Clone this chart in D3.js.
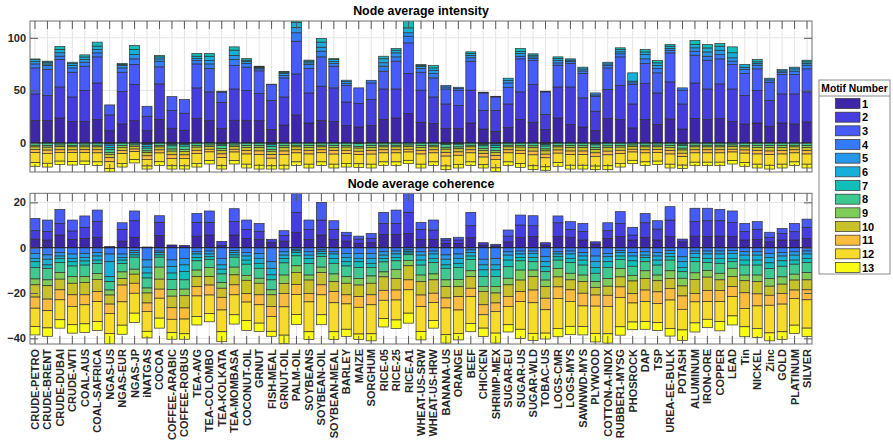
<!DOCTYPE html>
<html>
<head>
<meta charset="utf-8">
<script src="https://cdn.jsdelivr.net/npm/d3@7"></script>
<style>
  body { margin: 0; background: #fff; }
  svg { display: block; }
</style>
</head>
<body>
<svg id="chart" width="893" height="445"></svg>
<script>
// ---- categories and motif labels ----
const categories = ["CRUDE-PETRO","CRUDE-BRENT","CRUDE-DUBAI","CRUDE-WTI","COAL-AUS","COAL-SAFRICA","NGAS-US","NGAS-EUR","NGAS-JP","iNATGAS",
  "COCOA","COFFEE-ARABIC","COFFEE-ROBUS","TEA-AVG","TEA-COLOMBO","TEA-KOLKATA","TEA-MOMBASA","COCONUT-OIL","GRNUT","FISH-MEAL",
  "GRNUT-OIL","PALM-OIL","SOYBEANS","SOYBEAN-OIL","SOYBEAN-MEAL","BARLEY","MAIZE","SORGHUM","RICE-05","RICE-25",
  "RICE-A1","WHEAT-US-SRW","WHEAT-US-HRW","BANANA-US","ORANGE","BEEF","CHICKEN","SHRIMP-MEX","SUGAR-EU","SUGAR-US",
  "SUGAR-WLD","TOBAC-US","LOGS-CMR","LOGS-MYS","SAWNWD-MYS","PLYWOOD","COTTON-A-INDX","RUBBER1-MYSG","PHOSROCK","DAP",
  "TSP","UREA-EE-BULK","POTASH","ALUMINUM","IRON-ORE","COPPER","LEAD","Tin","NICKEL","Zinc",
  "GOLD","PLATINUM","SILVER"];
const motifLabels = ["1","2","3","4","5","6","7","8","9","10","11","12","13"];
const motifColors = ["#3e26a8","#463de0","#475bf9","#337afd","#2797eb","#17aeda","#12beb9",
  "#3dc990","#80cc59","#c8c129","#fbbc3d","#f7db2b","#f9fb15"];

// ---- node average intensity, one array per motif ----
const int1 = [21.3,21.3,23.8,20.3,20.3,22.2,11.7,18.1,21.3,11.7, 22.2,14.0,12.1,23.5,21.3,13.7,21.6,21.6,21.3,12.7, 17.1,26.7,19.0,21.3,20.3,16.5,15.2,16.5,22.2,23.8, 27.9,19.7,18.4,13.7,13.7,19.0,13.3,11.1,14.9,22.2, 19.7,12.7,23.8,17.5,15.2,11.7,23.2,22.2,14.3,22.2, 17.5,22.9,13.3,23.2,22.2,23.2,20.3,18.1,19.0,15.9, 19.0,18.1,20.0];
const int2 = [25.4,23.7,29.5,23.5,29.5,34.9,15.0,30.8,34.3,13.7, 34.0,16.8,16.2,28.9,27.3,25.0,29.8,28.2,25.7,27.6, 26.7,39.0,28.6,32.7,32.1,22.5,22.3,24.8,29.2,27.6, 38.1,30.5,25.4,23.4,21.9,31.2,17.8,19.7,22.2,26.4, 35.9,14.3,29.5,35.8,27.7,18.5,27.6,32.4,22.8,34.3, 30.1,35.2,23.8,33.9,29.2,33.0,31.1,27.0,30.8,24.4, 27.7,28.6,28.6];
const int3 = [24.7,24.8,26.1,23.5,23.2,24.8,9.5,18.4,19.0,9.5, 16.2,13.3,13.0,22.8,22.2,9.6,22.3,22.3,21.6,15.3, 18.1,31.1,23.2,27.9,20.6,15.6,14.9,15.8,16.9,26.4, 29.2,17.1,18.1,14.3,14.6,27.6,16.5,13.0,15.9,31.4, 22.8,21.6,20.7,22.3,23.1,14.2,20.6,27.3,18.5,19.1, 19.1,27.6,13.1,26.4,27.3,23.8,23.2,20.9,20.7,17.5, 18.4,18.4,21.9];
const int4 = [3.8,3.8,3.2,4.1,3.8,3.8,-0.8,4.1,5.4,-0.6, 5.4,0,0,3.2,4.4,0.9,5.7,3.5,1.9,0.3, 2.2,8.0,3.8,5.4,2.5,1.9,0,2.5,4.8,4.1, 6.4,3.5,4.1,1.9,1.5,3.2,0.7,0.6,4.1,2.5, 1.9,0.6,2.2,1.9,2.5,1.3,2.2,2.9,1.6,4.4, 4.1,2.5,2.2,3.8,3.8,4.1,3.2,3.8,3.5,2.2, 2.2,3.2,3.5];
const int5 = [2.2,1.6,3.2,2.5,2.5,3.2,-1.4,2.2,4.1,-1.0, 2.2,-0.4,-0.5,1.9,3.2,-0.4,3.8,1.9,1.0,-0.7, 1.9,5.0,1.6,3.8,1.9,1.9,0,0,3.2,3.8, 3.2,1.9,2.9,1.3,1.3,2.2,-0.5,-1.0,2.5,2.5, 1.6,-0.6,2.5,1.3,1.9,1.9,1.6,1.9,1.6,4.1, 2.9,1.6,-0.4,3.2,4.1,4.1,3.2,2.2,1.6,1.6, 1.3,2.2,1.6];
const int6 = [1.9,1.6,3.2,1.6,2.5,3.2,-2.0,1.0,4.8,-1.6, 1.9,-0.9,-1.0,2.2,4.1,-0.8,5.1,1.3,0.8,-1.0, 1.3,5.0,1.6,4.8,1.9,1.3,0,0,3.8,2.5, 4.7,1.0,2.5,-0.5,-0.4,1.9,-0.9,-1.5,2.0,2.2, 1.6,-1.0,1.6,1.2,1.7,-0.7,1.6,2.2,7.9,2.5, 2.5,2.2,-0.8,3.2,3.8,3.8,4.8,2.6,1.6,0, 1.2,1.6,1.6];
const int7 = [0.6,1.0,2.7,1.3,2.0,3.8,-2.2,1.0,3.8,-1.8, 1.3,-1.5,-1.6,2.6,2.6,-1.2,3.1,1.5,0.7,-1.8, 0.6,5.0,1.0,3.5,1.0,0,-0.6,0,2.4,1.6, 10.0,0.9,2.3,-0.9,-0.8,1.6,-1.4,-1.9,0,2.6, 1.3,-1.4,1.6,0,0,-1.2,0,1.6,0,2.3, 2.2,1.7,-1.2,3.8,3.3,2.6,5.6,0,2.2,0, 0,0,1.5];
const int8 = [-2.2,-2.4,-2.0,-2.3,-2.1,-2.2,-2.6,-2.5,-1.9,-2.5, -2.3,-3.0,-3.0,-2.4,-2.0,-2.8,-2.0,-2.5,-2.6,-2.6, -2.6,-2.2,-2.5,-2.2,-2.5,-2.4,-2.6,-2.5,-2.2,-2.2, -2.0,-2.5,-2.2,-2.7,-2.6,-2.2,-2.6,-2.7,-2.2,-2.4, -2.7,-2.7,-2.3,-2.6,-2.6,-2.6,-2.7,-2.4,-2.0,-2.2, -2.1,-2.5,-2.6,-2.2,-2.2,-2.2,-2.0,-2.3,-2.5,-2.6, -2.5,-2.2,-2.5];
const int9 = [-1.5,-1.6,-1.5,-1.4,-1.6,-1.5,-1.8,-1.7,-1.3,-1.7, -1.5,-2.0,-1.9,-1.6,-1.4,-1.9,-1.4,-1.7,-1.8,-1.8, -1.8,-1.5,-1.7,-1.5,-1.7,-1.6,-1.7,-1.7,-1.5,-1.5, -1.4,-1.7,-1.5,-1.8,-1.7,-1.5,-1.7,-1.8,-1.5,-1.6, -1.8,-1.8,-1.5,-1.8,-1.8,-1.8,-1.8,-1.6,-1.4,-1.5, -1.5,-1.7,-1.7,-1.5,-1.5,-1.5,-1.4,-1.5,-1.7,-1.8, -1.7,-1.5,-1.7];
const int10 = [-2.5,-2.8,-3.0,-2.9,-2.7,-2.8,-3.2,-2.9,-2.6,-3.0, -2.8,-3.4,-3.3,-3.0,-2.6,-3.3,-2.6,-3.1,-3.2,-3.2, -3.3,-2.8,-3.1,-2.8,-3.1,-3.0,-3.0,-3.1,-2.8,-2.8, -2.6,-3.1,-2.8,-3.2,-3.0,-2.8,-3.0,-3.2,-2.8,-3.0, -3.3,-3.2,-2.9,-3.3,-3.3,-3.1,-3.3,-3.0,-2.6,-2.8, -2.7,-3.1,-3.1,-2.8,-2.8,-2.8,-2.6,-2.9,-3.1,-3.3, -3.1,-2.8,-3.1];
const int11 = [-3.0,-3.1,-2.5,-2.6,-2.8,-2.9,-3.8,-3.0,-2.4,-3.4, -2.9,-3.5,-3.4,-3.1,-2.5,-3.5,-2.6,-3.2,-3.4,-3.4, -3.4,-2.9,-3.2,-2.8,-3.3,-3.1,-3.1,-3.3,-2.9,-2.9, -2.6,-3.2,-2.9,-3.4,-3.2,-2.9,-3.3,-3.5,-2.9,-3.1, -3.5,-3.4,-3.0,-3.4,-3.4,-3.3,-3.5,-3.1,-2.6,-2.9, -2.8,-3.2,-3.2,-2.9,-2.9,-2.9,-2.6,-3.0,-3.2,-3.4, -3.2,-2.9,-3.2];
const int12 = [-9.5,-9.4,-8.3,-8.5,-8.1,-8.6,-6.5,-9.3,-7.7,-6.3, -8.4,-7.0,-7.1,-9.3,-8.3,-7.8,-8.2,-9.7,-10.2,-7.3, -10.1,-8.6,-9.7,-8.7,-9.6,-9.3,-8.8,-9.6,-8.6,-8.6, -7.9,-9.7,-8.6,-9.4,-8.6,-8.6,-7.3,-8.1,-8.6,-9.5, -10.4,-8.6,-9.0,-10.1,-10.1,-9.3,-10.4,-9.3,-7.9,-8.6, -8.2,-9.7,-8.1,-8.9,-8.9,-8.9,-8.2,-9.0,-9.7,-10.1, -9.7,-8.6,-9.7];
const int13 = [-3.5,-3.6,-3.3,-3.3,-3.3,-3.3,-3.3,-3.5,-3.1,-2.9, -3.4,-3.1,-3.0,-3.5,-3.2,-3.1,-3.2,-3.6,-3.6,-3.0, -3.6,-3.3,-3.6,-3.3,-3.6,-3.5,-3.4,-3.6,-3.3,-3.3, -3.2,-3.6,-3.3,-3.5,-3.5,-3.3,-3.1,-3.3,-3.3,-3.6, -3.7,-3.3,-3.5,-3.6,-3.6,-3.4,-3.7,-3.5,-3.2,-3.3, -3.3,-3.6,-3.3,-3.3,-3.3,-3.3,-3.2,-3.5,-3.6,-3.6, -3.6,-3.3,-3.6];

// ---- node average coherence, one array per motif ----
const coh1 = [3.8,3.4,5.6,3.7,4.1,4.6,0.5,2.9,4.6,0.3, 5.4,1.2,1.0,5.1,5.6,0.9,5.6,4.1,3.7,2.2, 2.9,6.8,3.7,5.6,3.7,2.9,1.9,2.2,5.9,5.9, 6.3,3.7,3.7,1.9,1.9,4.4,1.2,0.7,2.6,4.6, 4.9,1.2,4.9,4.6,3.4,1.6,4.1,4.9,3.4,4.6, 3.4,4.9,2.6,5.1,4.9,5.1,4.9,3.4,3.7,2.6, 3.4,3.4,4.1];
const coh2 = [3.7,3.7,5.1,3.7,4.9,6.9,0,5.2,7.3,0, 5.8,0,0,6.1,5.6,1.9,5.9,4.0,3.4,1.5, 2.4,8.8,4.4,6.6,4.4,2.4,1.9,1.9,4.8,4.8, 9.3,4.4,4.1,1.5,1.5,5.3,1.0,0.8,2.5,5.4, 4.8,1.0,6.1,3.5,3.7,1.0,3.4,5.8,2.2,6.4, 4.8,7.3,1.2,6.4,7.0,6.8,6.3,3.7,4.4,2.0, 2.9,3.7,4.9];
const coh3 = [5.4,5.1,6.2,4.8,5.0,5.1,0,2.9,4.3,0, 2.9,0,0,3.9,5.0,0,5.7,4.1,3.6,0, 2.2,11.4,4.1,7.8,3.8,1.5,1.3,2.2,4.9,5.9, 11.4,3.1,4.4,0.7,1.2,5.9,0,0,2.7,4.4, 4.4,0,3.0,3.4,3.6,0,3.5,5.2,3.4,4.1, 3.7,5.9,0,5.9,5.5,5.0,5.0,3.6,3.4,2.2, 2.2,3.6,3.6];
const coh4 = [-2.5,-3.2,-2.2,-2.8,-2.5,-2.1,-2.8,-2.8,-1.3,-5.4, -1.5,-5.4,-4.7,-1.8,-1.5,-4.7,-1.3,-2.1,-2.5,-6.2, -1.8,-0.7,-1.8,-1.0,-1.8,-2.5,-2.5,-2.5,-1.8,-1.5, -1.0,-1.8,-1.5,-3.2,-2.8,-1.0,-5.1,-4.7,-1.8,-1.5, -1.5,-4.0,-1.8,-1.5,-2.2,-3.7,-2.5,-1.3,-2.2,-1.8, -2.2,-1.3,-4.0,-1.5,-1.5,-1.5,-1.3,-1.8,-1.8,-2.5, -2.2,-1.8,-1.5];
const coh5 = [-2.2,-1.9,-1.5,-1.9,-1.8,-1.6,-3.4,-1.5,-0.9,-3.2, -0.7,-2.9,-2.9,-1.0,-1.3,-2.9,-0.9,-1.6,-2.2,-2.9, -1.5,-0.7,-1.5,-0.7,-1.0,-1.8,-2.2,-2.2,-1.5,-1.3, -0.7,-1.5,-1.3,-1.9,-1.9,-1.2,-2.5,-2.9,-1.5,-1.3, -1.0,-2.2,-1.0,-1.3,-1.5,-2.5,-1.5,-0.9,-1.5,-1.5, -1.5,-1.2,-2.2,-1.0,-1.3,-1.3,-1.2,-1.5,-1.5,-1.8, -1.5,-1.5,-1.3];
const coh6 = [-1.5,-2.5,-1.0,-1.5,-1.6,-1.8,-6.6,-1.2,-1.0,-2.6, -1.0,-2.9,-2.9,-1.5,-1.2,-1.9,-1.0,-1.8,-2.2,-2.9, -1.5,-0.7,-1.5,-1.0,-1.9,-1.9,-1.5,-2.2,-1.5,-1.5, -0.7,-2.2,-1.9,-2.5,-2.2,-1.5,-2.2,-2.2,-2.2,-1.5, -1.8,-2.2,-1.2,-1.9,-1.8,-2.5,-2.2,-1.5,-2.1,-1.0, -1.8,-1.5,-2.5,-1.8,-1.9,-1.9,-2.2,-2.2,-2.2,-2.4, -2.1,-2.2,-1.9];
const coh7 = [-2.5,-1.5,-1.9,-1.9,-1.8,-1.5,-2.2,-1.5,-1.0,-2.2, -1.0,-2.9,-3.7,-1.5,-1.2,-2.1,-1.0,-1.8,-2.2,-2.2, -1.9,-1.5,-2.2,-1.2,-2.2,-1.9,-2.5,-1.8,-1.5,-1.5, -0.7,-2.2,-1.9,-1.5,-1.8,-1.5,-2.9,-2.9,-2.9,-1.5, -1.9,-2.2,-1.5,-1.9,-2.2,-2.6,-2.5,-1.5,-2.4,-1.9, -2.2,-1.5,-1.9,-1.9,-1.9,-2.2,-1.5,-2.2,-2.2,-2.5, -2.4,-1.8,-1.9];
const coh8 = [-5.1,-5.1,-4.4,-4.7,-5.1,-4.4,-3.7,-3.7,-5.3,-4.4, -4.4,-4.4,-4.1,-4.1,-3.5,-3.8,-4.4,-4.9,-4.4,-4.4, -5.4,-4.4,-5.1,-4.7,-4.7,-4.7,-4.9,-3.8,-4.4,-3.8, -2.5,-4.4,-5.0,-5.1,-5.3,-5.0,-4.4,-4.4,-5.1,-4.1, -3.7,-3.7,-3.7,-4.7,-4.4,-3.7,-4.9,-4.0,-4.0,-4.0, -4.4,-4.7,-2.9,-4.9,-3.5,-4.4,-2.9,-4.4,-4.4,-4.4, -4.7,-4.4,-4.4];
const coh9 = [-2.6,-2.6,-2.9,-2.9,-2.6,-2.6,-2.2,-2.9,-2.2,-2.2, -5.3,-2.9,-2.9,-2.9,-4.1,-2.5,-3.4,-2.2,-2.2,-2.2, -3.7,-2.9,-2.2,-2.4,-3.4,-2.9,-2.9,-3.2,-2.2,-4.0, -2.4,-2.9,-2.6,-2.9,-3.2,-2.6,-2.2,-2.9,-2.9,-4.4, -2.9,-2.9,-3.7,-2.9,-2.9,-2.5,-3.4,-3.7,-2.5,-3.4, -2.5,-3.4,-3.4,-2.9,-2.9,-2.9,-3.7,-2.5,-2.9,-3.4, -3.2,-2.6,-3.2];
const coh10 = [-5.4,-5.9,-4.7,-5.1,-5.4,-5.4,-4.0,-2.9,-4.0,-4.4, -4.4,-5.1,-5.4,-4.4,-3.7,-4.0,-4.4,-5.9,-5.1,-5.1, -4.4,-5.4,-5.9,-5.4,-4.4,-5.1,-5.1,-5.1,-5.9,-5.1, -6.2,-5.9,-5.9,-5.1,-4.4,-5.1,-5.9,-4.4,-5.1,-5.1, -5.9,-5.1,-4.4,-4.4,-5.1,-3.4,-4.0,-4.4,-5.6,-5.1, -4.9,-4.4,-4.4,-6.2,-5.9,-4.7,-4.4,-5.3,-5.4,-4.0, -4.1,-4.4,-4.4];
const coh11 = [-4.9,-5.1,-4.4,-5.1,-4.4,-4.4,-4.1,-7.4,-4.4,-3.7, -4.0,-5.1,-4.9,-4.1,-4.4,-5.6,-4.4,-3.7,-4.4,-4.4, -5.9,-4.4,-3.7,-4.4,-4.9,-4.0,-4.7,-4.4,-4.4,-4.4, -4.4,-5.1,-4.1,-4.4,-5.9,-3.7,-4.4,-3.7,-4.4,-4.4, -5.6,-5.1,-5.1,-5.1,-5.6,-4.9,-4.9,-4.7,-4.1,-5.1, -5.1,-5.1,-5.9,-3.7,-4.9,-4.9,-4.4,-6.9,-5.3,-4.4, -4.7,-3.7,-4.4];
const coh12 = [-8.1,-7.6,-8.8,-8.1,-8.4,-8.8,-8.8,-10.3,-8.8,-8.8, -8.8,-5.9,-6.5,-9.1,-8.1,-9.6,-8.8,-8.1,-8.1,-6.6, -12.5,-8.8,-13.2,-8.8,-12.8,-11.2,-11.8,-12.8,-8.1,-8.8, -10.3,-11.0,-7.9,-11.8,-10.3,-11.8,-5.9,-9.6,-8.1,-12.2, -13.5,-10.3,-13.2,-11.0,-9.1,-12.1,-12.1,-12.9,-8.4,-8.8, -8.5,-12.5,-9.1,-9.3,-7.8,-8.8,-8.5,-8.1,-9.9,-12.2, -12.2,-11.8,-12.5];
const coh13 = [-3.7,-3.7,-3.7,-3.7,-3.8,-4.0,-4.7,-4.0,-4.1,-2.9, -4.4,-2.9,-2.4,-3.7,-3.7,-4.4,-4.1,-4.4,-3.7,-2.2, -3.7,-4.4,-3.4,-4.4,-3.4,-3.2,-2.4,-3.1,-3.7,-3.7, -4.4,-3.7,-3.4,-3.7,-2.9,-3.7,-3.7,-4.4,-3.2,-4.0, -3.2,-2.6,-3.7,-3.7,-3.7,-3.7,-4.1,-3.7,-3.4,-3.4, -3.5,-3.4,-4.7,-4.0,-3.7,-4.1,-4.0,-4.4,-4.0,-3.5, -3.4,-3.7,-3.7];

// ---- axis ticks ----
const intensityTicks = [0, 50, 100];
const coherenceTicks = [-40, -20, 0, 20];

const FONT = "'Liberation Sans', Arial, Helvetica, sans-serif";
const svg = d3.select("#chart");
const plotLeft = 30, plotRight = 812;

const x = d3.scaleBand()
  .domain(categories)
  .range([plotLeft, plotRight])
  .paddingInner(0.2)
  .paddingOuter(0);

const stackGen = d3.stack().keys(motifLabels).offset(d3.stackOffsetDiverging);

function drawPanel(cfg) {
  const y = d3.scaleLinear().domain(cfg.domain).range([cfg.bottom, cfg.top]);
  const g = svg.append("g");

  // clip region for bars that run past the axes limits
  svg.append("defs").append("clipPath").attr("id", cfg.id)
    .append("rect")
    .attr("x", plotLeft).attr("y", cfg.top)
    .attr("width", plotRight - plotLeft).attr("height", cfg.bottom - cfg.top);

  // grid
  const grid = g.append("g").attr("stroke", "#e4e4e4").attr("stroke-width", 1);
  grid.selectAll("line.v").data(categories).join("line")
    .attr("class", "v")
    .attr("x1", d => x(d) + x.bandwidth() / 2).attr("x2", d => x(d) + x.bandwidth() / 2)
    .attr("y1", cfg.top).attr("y2", cfg.bottom);
  grid.selectAll("line.h").data(cfg.ticks).join("line")
    .attr("class", "h")
    .attr("x1", plotLeft).attr("x2", plotRight)
    .attr("y1", d => y(d)).attr("y2", d => y(d));

  // stacked bars (positive values stack up, negative values stack down)
  const rows = categories.map((c, i) => {
    const r = { cat: c };
    cfg.series.forEach((s, k) => { r[motifLabels[k]] = s[i]; });
    return r;
  });
  const stacked = stackGen(rows);

  g.append("g").attr("clip-path", `url(#${cfg.id})`)
    .selectAll("g").data(stacked).join("g")
    .attr("fill", (d, k) => motifColors[k])
    .selectAll("rect").data(d => d.filter(p => p[1] !== p[0])).join("rect")
    .attr("x", p => x(p.data.cat))
    .attr("width", x.bandwidth())
    .attr("y", p => y(Math.max(p[0], p[1])))
    .attr("height", p => Math.abs(y(p[0]) - y(p[1])))
    .attr("stroke", "#303030")
    .attr("stroke-width", 0.7);

  // bar baseline at zero
  g.append("line")
    .attr("x1", plotLeft).attr("x2", plotRight)
    .attr("y1", y(0)).attr("y2", y(0))
    .attr("stroke", "#222").attr("stroke-width", 1);

  // axes box
  g.append("rect")
    .attr("x", plotLeft).attr("y", cfg.top)
    .attr("width", plotRight - plotLeft).attr("height", cfg.bottom - cfg.top)
    .attr("fill", "none").attr("stroke", "#6e6e6e").attr("stroke-width", 1);

  const styleAxis = sel => {
    sel.select(".domain").remove();
    sel.selectAll(".tick line").attr("stroke", "#5a5a5a");
    sel.attr("font-family", FONT).attr("font-size", 11).attr("font-weight", "bold");
    sel.selectAll(".tick text").attr("fill", "#262626");
  };

  // y axis (labels on left, mirrored ticks on right)
  g.append("g").attr("transform", `translate(${plotLeft},0)`)
    .call(d3.axisLeft(y).tickValues(cfg.ticks).tickSize(-8).tickPadding(4).tickFormat(d3.format("d")))
    .call(styleAxis);
  g.append("g").attr("transform", `translate(${plotRight},0)`)
    .call(d3.axisRight(y).tickValues(cfg.ticks).tickSize(-8).tickFormat(""))
    .call(styleAxis);

  // x ticks on top and bottom edges
  g.append("g").attr("transform", `translate(0,${cfg.top})`)
    .call(d3.axisTop(x).tickSize(-8).tickFormat(""))
    .call(styleAxis);
  const bottomAxis = g.append("g").attr("transform", `translate(0,${cfg.bottom})`)
    .call(d3.axisBottom(x).tickSize(-8).tickFormat(cfg.showLabels ? (d => d) : ""))
    .call(styleAxis);
  if (cfg.showLabels) {
    bottomAxis.selectAll(".tick text")
      .attr("transform", "rotate(-90)")
      .attr("text-anchor", "end")
      .attr("x", -5).attr("y", 0).attr("dy", "0.36em");
  }

  // panel title
  svg.append("text")
    .attr("x", (plotLeft + plotRight) / 2).attr("y", cfg.titleY)
    .attr("text-anchor", "middle")
    .attr("font-family", FONT).attr("font-size", 12.4).attr("font-weight", "bold")
    .attr("fill", "#000")
    .text(cfg.title);
}

drawPanel({
  id: "clip-intensity",
  title: "Node average intensity",
  titleY: 15,
  top: 21, bottom: 172,
  domain: [-27.6, 116],
  ticks: intensityTicks,
  series: [int1, int2, int3, int4, int5, int6, int7, int8, int9, int10, int11, int12, int13],
  showLabels: false
});

drawPanel({
  id: "clip-coherence",
  title: "Node average coherence",
  titleY: 187.5,
  top: 193.3, bottom: 344,
  domain: [-42.5, 24],
  ticks: coherenceTicks,
  series: [coh1, coh2, coh3, coh4, coh5, coh6, coh7, coh8, coh9, coh10, coh11, coh12, coh13],
  showLabels: true
});

// ---- legend ----
const legend = svg.append("g").attr("font-family", FONT).attr("font-weight", "bold");
legend.append("rect")
  .attr("x", 819).attr("y", 80).attr("width", 71).attr("height", 194)
  .attr("fill", "#fff").attr("stroke", "#8a8a8a").attr("stroke-width", 1);
legend.append("text")
  .attr("x", 854.5).attr("y", 92).attr("text-anchor", "middle")
  .attr("font-size", 10.3).attr("fill", "#000")
  .text("Motif Number");
legend.append("line")
  .attr("x1", 819).attr("x2", 890).attr("y1", 96).attr("y2", 96)
  .attr("stroke", "#8a8a8a");
const ly = d3.scalePoint().domain(motifLabels).range([103.5, 267.5]);
const items = legend.selectAll("g.item").data(motifLabels).join("g")
  .attr("class", "item")
  .attr("transform", d => `translate(0,${ly(d)})`);
items.append("rect")
  .attr("x", 835.5).attr("y", -5).attr("width", 24.5).attr("height", 10)
  .attr("fill", (d, i) => motifColors[i])
  .attr("stroke", "#303030").attr("stroke-width", 0.7);
items.append("text")
  .attr("x", 862).attr("y", 4).attr("font-size", 11).attr("fill", "#000")
  .text(d => d);
</script>
</body>
</html>
